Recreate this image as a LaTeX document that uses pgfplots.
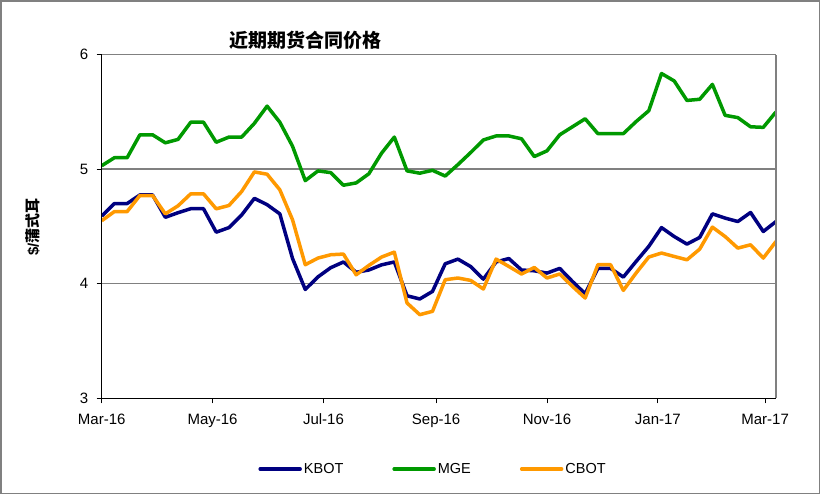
\documentclass[border=0pt]{standalone}
\usepackage{fontspec}
\setmainfont{Liberation Sans}
\newfontfamily\cjk{Noto Sans CJK SC}
\usepackage{pgfplots}
\usepackage{pgfplotstable}
\pgfplotsset{compat=1.18}
\definecolor{kbot}{HTML}{000080}
\definecolor{mge}{HTML}{009900}
\definecolor{cbot}{HTML}{FF9900}
\definecolor{gridgray}{HTML}{808080}

% day = days since 1 Mar 2016, weekly
\pgfplotstableread{
day kbot mge cbot
0   4.59  5.03  4.55
7   4.70  5.10  4.63
14  4.70  5.10  4.63
21  4.775 5.30  4.77
28  4.775 5.30  4.77
35  4.58  5.23  4.61
42  4.62  5.26  4.68
49  4.655 5.41  4.785
56  4.655 5.41  4.785
63  4.45  5.235 4.654
70  4.49  5.28  4.683
77  4.60  5.28  4.805
84  4.745 5.40  4.976
91  4.69  5.55  4.956
98  4.61  5.41  4.82
105 4.22  5.20  4.558
112 3.95  4.90  4.166
119 4.06  4.985 4.224
126 4.14  4.97  4.253
133 4.19  4.86  4.259
140 4.10  4.88  4.078
147 4.12  4.96  4.16
154 4.165 5.14  4.233
161 4.19  5.28  4.276
168 3.895 4.985 3.832
175 3.867 4.965 3.73
182 3.933 4.99  3.759
189 4.174 4.94  4.035
196 4.215 5.04  4.05
203 4.15  5.145 4.029
210 4.04  5.255 3.954
217 4.19  5.29  4.215
224 4.22  5.29  4.151
231 4.12  5.265 4.085
238 4.113 5.11  4.142
245 4.093 5.16  4.05
252 4.134 5.30  4.085
259 4.02  5.37  3.977
266 3.913 5.44  3.875
273 4.134 5.31  4.166
280 4.134 5.31  4.166
287 4.058 5.31  3.942
294 4.194 5.415 4.093
301 4.326 5.51  4.233
308 4.49  5.835 4.268
315 4.412 5.77  4.238
322 4.346 5.60  4.209
329 4.404 5.61  4.302
336 4.61  5.74  4.494
343 4.573 5.47  4.412
350 4.543 5.45  4.311
357 4.622 5.37  4.34
364 4.456 5.365 4.224
371 4.543 5.50  4.369
}\prices

\begin{document}
\begin{tikzpicture}
\draw[gridgray, line width=1.5bp] (0.75bp,-0.75bp) rectangle (819.25bp,-493.25bp);
\begin{axis}[
  at={(101.7bp,-398.3bp)}, anchor=south west,
  scale only axis, width=674.3bp, height=343.7bp,
  xmin=0, xmax=371, ymin=3, ymax=6,
  xtick={0,61,122,184,245,306,365},
  xticklabels={Mar-16,May-16,Jul-16,Sep-16,Nov-16,Jan-17,Mar-17},
  ytick={3,4,5,6},
  tick align=outside, xtick pos=bottom, ytick pos=left,
  major tick length=5bp,
  tick style={black, line width=1bp},
  ymajorgrids, grid style={gridgray, line width=1.5bp},
  axis line style={draw=none},
  ticklabel style={font=\fontsize{15bp}{18bp}\selectfont},
  xticklabel style={yshift=-7bp},
  yticklabel style={xshift=-5bp},
  /pgf/number format/assume math mode=true,
  title={\cjk\bfseries 近期期货合同价格},
  title style={at={(axis description cs:0.3015,1.023)}, anchor=center,
    font=\fontsize{19bp}{22bp}\selectfont},
  ylabel={\bfseries\$/\cjk 蒲式耳},
  ylabel style={at={(axis description cs:-0.102,0.498)}, anchor=center,
    font=\fontsize{15bp}{17bp}\selectfont},
  legend columns=3,
  legend style={at={(axis description cs:0.4914,-0.2057)}, anchor=center,
    draw=none, fill=none, font=\fontsize{14.5bp}{17bp}\selectfont,
    /tikz/every even column/.append style={column sep=47bp}},
  legend image code/.code={\draw[#1, line width=3.5bp, line cap=round] (0bp,0bp) -- (40bp,0bp);},
  every axis plot/.append style={line width=3.5bp, line join=round},
  after end axis/.code={
    \draw[gridgray, line width=1.5bp] (rel axis cs:1,0) -- (rel axis cs:1,1);
    \draw[black, line width=1.5bp] (rel axis cs:0,1) -- (rel axis cs:0,0) -- (rel axis cs:1,0);
  },
]
\addplot[kbot, no marks] table[x=day, y=kbot] {\prices};
\addplot[mge, no marks] table[x=day, y=mge] {\prices};
\addplot[cbot, no marks] table[x=day, y=cbot] {\prices};
\legend{KBOT,MGE,CBOT}
\end{axis}
\end{tikzpicture}
\end{document}
